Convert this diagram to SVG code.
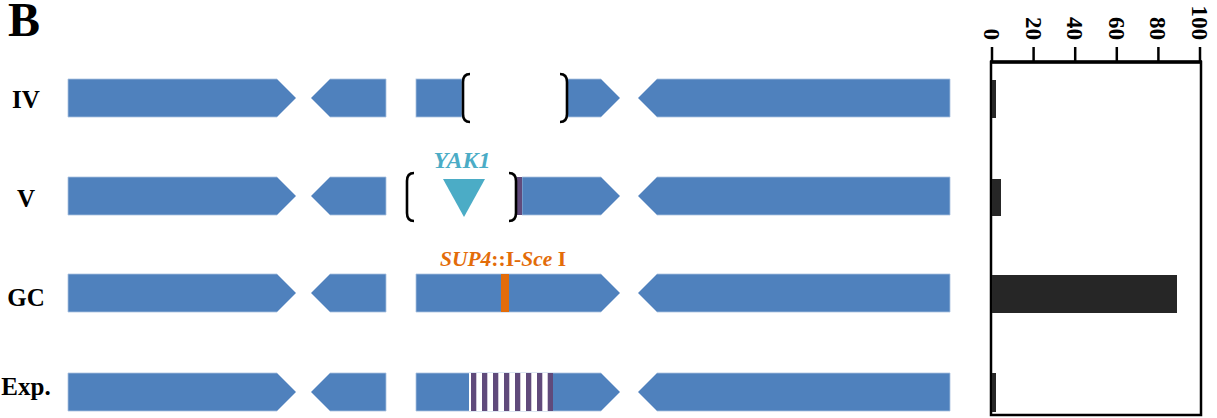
<svg xmlns="http://www.w3.org/2000/svg" width="1217" height="418" viewBox="0 0 1217 418">
<style>
.g{fill:#4F81BD;stroke:#A9C1DF;stroke-width:0.8}
.br{fill:none;stroke:#000;stroke-width:2.6}
.lab{font-family:"Liberation Serif",serif;font-weight:bold;font-size:25px;fill:#000;text-anchor:middle}
.tick{font-family:"Liberation Serif",serif;font-weight:bold;font-size:23px;fill:#000;text-anchor:end}
.bar{fill:#262626}
.pu{fill:#604A7B}
</style>
<text x="8" y="36" font-family="Liberation Serif, serif" font-weight="bold" font-size="48">B</text>

<g id="row-IV">
<text class="lab" x="26" y="108">IV</text>
<polygon class="g" points="68,79 277,79 296,98 277,117 68,117"/>
<polygon class="g" points="311,98 330,79 386,79 386,117 330,117"/>
<rect class="g" x="416" y="79" width="46" height="38"/>
<polygon class="g" points="567,79 601,79 620,98 601,117 567,117"/>
<polygon class="g" points="638,98 657,79 950,79 950,117 657,117"/>
<path class="br" d="M470,74 Q463,74 463,82 L463,114 Q463,122 470,122"/>
<path class="br" d="M560,74 Q567,74 567,82 L567,114 Q567,122 560,122"/>
</g>

<g id="row-V">
<text class="lab" x="26" y="207">V</text>
<polygon class="g" points="68,177 277,177 296,196 277,215 68,215"/>
<polygon class="g" points="311,196 330,177 386,177 386,215 330,215"/>
<polygon class="g" points="522,177 601,177 620,196 601,215 522,215"/>
<rect class="pu" x="517" y="177" width="5" height="38"/>
<polygon class="g" points="638,196 657,177 950,177 950,215 657,215"/>
<path class="br" d="M414,173 Q407,173 407,181 L407,213 Q407,221 414,221"/>
<path class="br" d="M509,173 Q516,173 516,181 L516,213 Q516,221 509,221"/>
<polygon points="443,179 485,179 464,217" fill="#4BACC6"/>
<text x="462" y="168" font-family="Liberation Serif, serif" font-weight="bold" font-style="italic" font-size="24" fill="#4BACC6" text-anchor="middle">YAK1</text>
</g>

<g id="row-GC">
<text class="lab" x="26" y="306">GC</text>
<polygon class="g" points="68,274 277,274 296,293 277,312 68,312"/>
<polygon class="g" points="311,293 330,274 386,274 386,312 330,312"/>
<polygon class="g" points="416,274 601,274 620,293 601,312 416,312"/>
<rect x="501" y="274" width="8" height="38" fill="#E36C09"/>
<polygon class="g" points="638,293 657,274 950,274 950,312 657,312"/>
<text x="503" y="266" font-family="Liberation Serif, serif" font-weight="bold" font-size="21.5" fill="#E36C09" text-anchor="middle"><tspan font-style="italic">SUP4</tspan>::I-<tspan font-style="italic">Sce</tspan> I</text>
</g>

<g id="row-Exp">
<text class="lab" x="26" y="395">Exp.</text>
<polygon class="g" points="68,373 277,373 296,392 277,411 68,411"/>
<polygon class="g" points="311,392 330,373 386,373 386,411 330,411"/>
<polygon class="g" points="416,373 601,373 620,392 601,411 416,411"/>
<rect x="469" y="373" width="84" height="38" fill="#fff"/>
<rect class="pu" x="471" y="373" width="5.3" height="38"/>
<rect class="pu" x="482" y="373" width="5.3" height="38"/>
<rect class="pu" x="493" y="373" width="5.3" height="38"/>
<rect class="pu" x="504" y="373" width="5.3" height="38"/>
<rect class="pu" x="515" y="373" width="5.3" height="38"/>
<rect class="pu" x="526" y="373" width="5.3" height="38"/>
<rect class="pu" x="537" y="373" width="5.3" height="38"/>
<rect class="pu" x="547.7" y="373" width="5.3" height="38"/>
<polygon class="g" points="638,392 657,373 950,373 950,411 657,411"/>
</g>

<g id="chart">
<rect x="991" y="62" width="210" height="353" fill="none" stroke="#000" stroke-width="2.5"/>
<line x1="990" y1="62" x2="1202" y2="62" stroke="#000" stroke-width="3.5"/>
<g stroke="#000" stroke-width="2.5">
<line x1="992" y1="47" x2="992" y2="62"/>
<line x1="1033.6" y1="47" x2="1033.6" y2="62"/>
<line x1="1075.2" y1="47" x2="1075.2" y2="62"/>
<line x1="1116.8" y1="47" x2="1116.8" y2="62"/>
<line x1="1158.4" y1="47" x2="1158.4" y2="62"/>
<line x1="1200" y1="47" x2="1200" y2="62"/>
</g>
<text class="tick" transform="translate(984,40) rotate(90)">0</text>
<text class="tick" transform="translate(1025.6,40) rotate(90)">20</text>
<text class="tick" transform="translate(1067.2,40) rotate(90)">40</text>
<text class="tick" transform="translate(1108.8,40) rotate(90)">60</text>
<text class="tick" transform="translate(1150.4,40) rotate(90)">80</text>
<text class="tick" transform="translate(1192,40) rotate(90)">100</text>
<rect class="bar" x="992" y="80" width="4" height="38"/>
<rect class="bar" x="992" y="179" width="9" height="37"/>
<rect class="bar" x="992" y="275" width="185" height="38"/>
<rect class="bar" x="992" y="373" width="4" height="39"/>
</g>
</svg>
